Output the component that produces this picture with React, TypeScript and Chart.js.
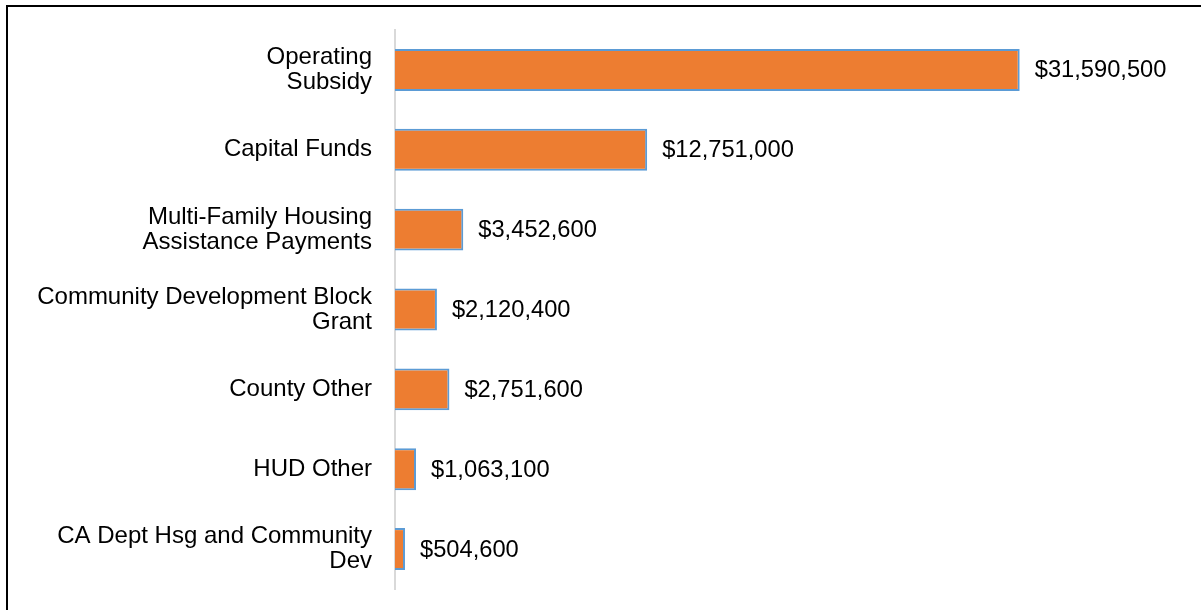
import React, { useEffect, useRef } from "react";
import { Chart, registerables } from "chart.js";

Chart.register(...registerables);

const categories: string[][] = [
  ["Operating", "Subsidy"],
  ["Capital Funds"],
  ["Multi-Family Housing", "Assistance Payments"],
  ["Community Development Block", "Grant"],
  ["County Other"],
  ["HUD Other"],
  ["CA Dept Hsg and Community", "Dev"],
];
const values: number[] = [31590500, 12751000, 3452600, 2120400, 2751600, 1063100, 504600];

const FONT = "'Liberation Sans', Arial, sans-serif";

const valueLabels = {
  id: "valueLabels",
  afterDatasetsDraw(chart: any) {
    const ctx = chart.ctx;
    const meta = chart.getDatasetMeta(0);
    ctx.save();
    ctx.fillStyle = "#000";
    ctx.font = `23.7px ${FONT}`;
    ctx.textAlign = "left";
    ctx.textBaseline = "middle";
    meta.data.forEach((bar: any, i: number) => {
      const v = chart.data.datasets[0].data[i] as number;
      ctx.fillText("$" + v.toLocaleString("en-US"), bar.x + 15, bar.y + 1);
    });
    ctx.restore();
  },
};

export default function App() {
  const ref = useRef<HTMLCanvasElement>(null);
  useEffect(() => {
    if (!ref.current) return;
    const chart = new Chart(ref.current, {
      type: "bar",
      data: {
        labels: categories,
        datasets: [
          {
            data: values,
            backgroundColor: "#ED7D31",
            borderColor: "#5B9BD5",
            borderWidth: 2,
            categoryPercentage: 1,
            barPercentage: 0.525,
          },
        ],
      },
      options: {
        indexAxis: "y",
        responsive: false,
        animation: false,
        devicePixelRatio: 1,
        layout: { padding: { top: 30, bottom: 21, left: 0, right: 15 } },
        plugins: { legend: { display: false }, tooltip: { enabled: false } },
        scales: {
          x: { display: false, min: 0, max: 40000000 },
          y: {
            afterFit: (scale: any) => {
              scale.width = 395;
              scale.paddingTop = 0;
              scale.paddingBottom = 0;
            },
            grid: { display: false },
            border: { display: true, color: "#D9D9D9", width: 2 },
            ticks: {
              color: "#000",
              padding: 15,
              font: { family: FONT, size: 24, lineHeight: 1.05 },
            },
          },
        },
      },
      plugins: [valueLabels],
    });
    return () => chart.destroy();
  }, []);
  return (
    <div style={{ position: "fixed", left: 0, top: 0, width: 1201, height: 610, background: "#fff", overflow: "hidden" }}>
      <div style={{ position: "absolute", left: 6, top: 5, width: 1300, height: 700, borderLeft: "2px solid #000", borderTop: "2px solid #000" }} />
      <canvas ref={ref} width={1201} height={610} style={{ position: "absolute", left: 0, top: 0 }} />
    </div>
  );
}
